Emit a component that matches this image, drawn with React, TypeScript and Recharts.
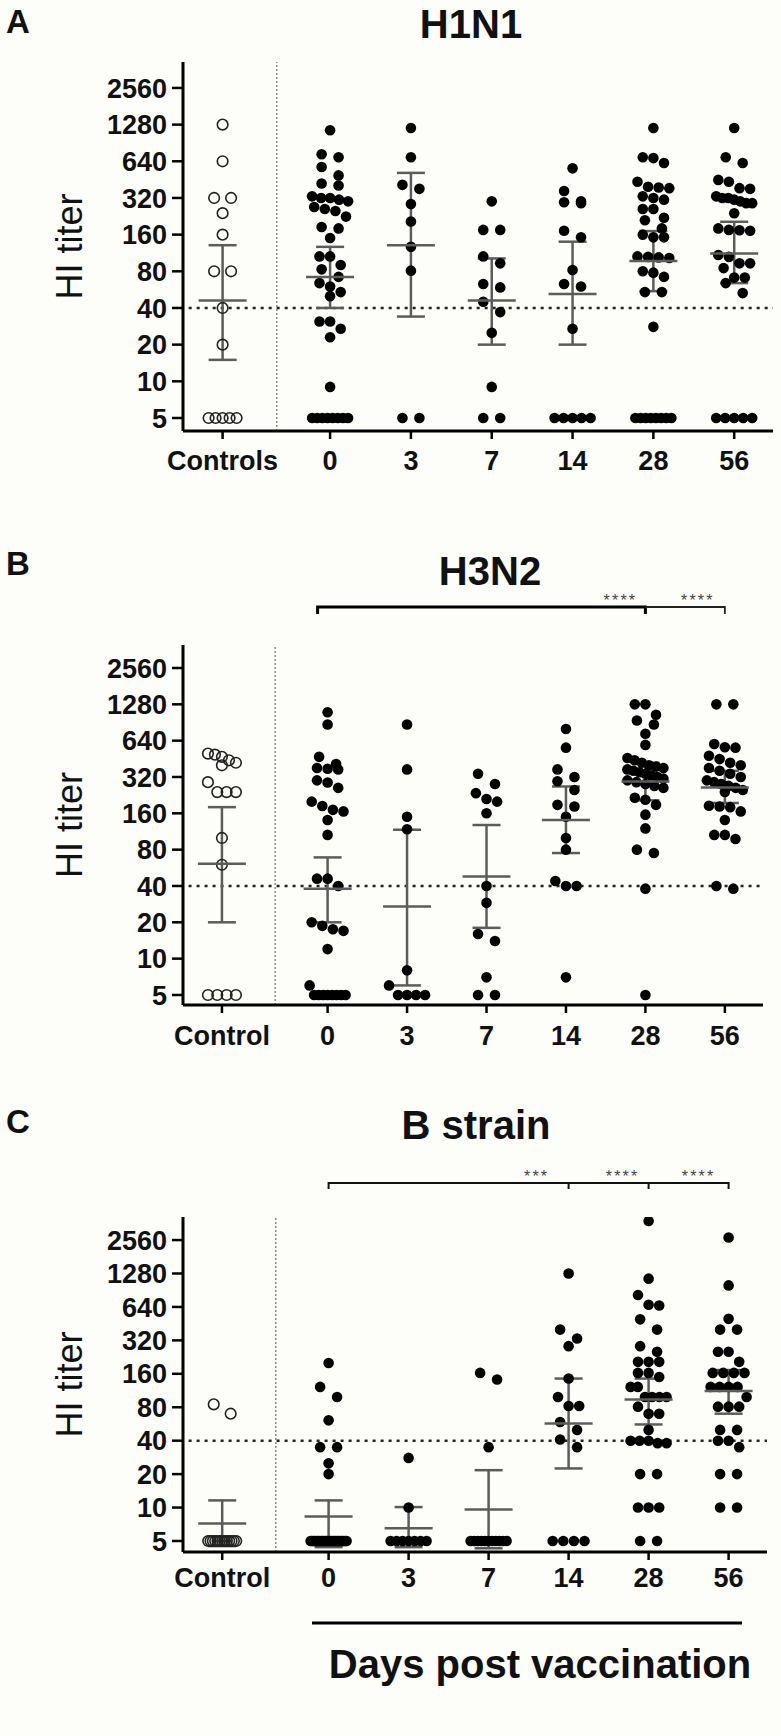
import React from 'react'
import { ScatterChart, Scatter, XAxis, YAxis, ReferenceLine, ErrorBar } from 'recharts'

const FONT = '"Liberation Sans", Arial, Helvetica, sans-serif'

// tick labels
const DAY_LABELS = ['0', '3', '7', '14', '28', '56']
const Y_TICKS = [5, 10, 20, 40, 80, 160, 320, 640, 1280, 2560]

// H1N1 titers per group (Controls, day 0 ... day 56)
const h1n1Control = [1280, 640, 320, 320, 240, 160, 80, 80, 40, 20, 5, 5, 5, 5, 5]
const h1n1Day0 = [1150, 730, 690, 575, 490, 420, 405, 330, 320, 320, 310, 300, 270, 260, 250, 225, 185, 180, 150, 106, 106, 90, 83, 72, 64, 60, 54, 50, 31, 31, 27, 23, 9, 5, 5, 5, 5, 5, 5, 5, 5]
const h1n1Day3 = [1200, 690, 410, 380, 285, 205, 127, 81, 5, 5]
const h1n1Day7 = [300, 175, 175, 106, 93, 63, 59, 45, 37, 25, 9, 5, 5]
const h1n1Day14 = [560, 365, 300, 295, 290, 172, 152, 82, 63, 60, 27, 5, 5, 5, 5, 5]
const h1n1Day28 = [1200, 690, 680, 620, 435, 395, 390, 385, 330, 320, 310, 260, 260, 220, 210, 180, 160, 152, 152, 106, 105, 104, 103, 80, 78, 72, 54, 54, 28, 5, 5, 5, 5, 5, 5, 5, 5]
const h1n1Day56 = [1200, 690, 620, 450, 435, 385, 380, 330, 320, 320, 310, 300, 290, 290, 240, 180, 175, 174, 172, 109, 105, 93, 93, 85, 71, 71, 64, 53, 5, 5, 5, 5, 5]
const h1n1Mean = [46, 72, 131, 46, 52, 97, 112]
const h1n1Lo = [15, 40, 34, 20, 20, 55, 64]
const h1n1Hi = [131, 127, 514, 102, 140, 171, 204]

// H3N2
const h3n2Control = [500, 470, 440, 420, 400, 490, 290, 240, 240, 240, 100, 60, 5, 5, 5, 5]
const h3n2Day0 = [1100, 870, 470, 410, 380, 375, 370, 300, 288, 260, 200, 184, 171, 166, 141, 106, 46, 46, 40, 20, 18.7, 17.5, 17, 12, 6, 5, 5, 5, 5, 5, 5, 5, 5]
const h3n2Day3 = [870, 370, 150, 118, 8, 6, 5, 5, 5, 5]
const h3n2Day7 = [340, 280, 235, 210, 200, 160, 40, 29, 16, 14, 7, 5, 5]
const h3n2Day14 = [800, 560, 370, 320, 295, 250, 188, 182, 150, 100, 80, 44, 40, 40, 7]
const h3n2Day28 = [1280, 1280, 1050, 940, 870, 730, 590, 460, 440, 420, 400, 390, 380, 370, 360, 350, 340, 330, 320, 310, 300, 290, 280, 270, 260, 215, 207, 188, 156, 120, 80, 75, 38, 5]
const h3n2Day56 = [1280, 1280, 600, 565, 560, 480, 450, 420, 400, 380, 360, 340, 320, 300, 290, 280, 270, 260, 250, 240, 185, 182, 180, 166, 141, 106, 106, 98, 40, 38]
const h3n2Mean = [61, 38, 27, 48, 141, 294, 262]
const h3n2Lo = [20, 20, 6, 18, 75, 205, 195]
const h3n2Hi = [180, 69, 117, 128, 267, 420, 360]

// B strain
const bControl = [85, 70, 5, 5, 5, 5, 5, 5, 5, 5, 5, 5, 5, 5, 5]
const bDay0 = [200, 122, 99, 61, 35, 35, 25, 20, 5, 5, 5, 5, 5, 5, 5, 5, 5, 5, 5, 5, 5, 5, 5, 5, 5, 5, 5, 5, 5, 5, 5, 5, 5, 5, 5, 5]
const bDay3 = [28, 10, 5, 5, 5, 5, 5, 5, 5]
const bDay7 = [163, 142, 35, 5, 5, 5, 5, 5, 5, 5, 5, 5, 5, 5]
const bDay14 = [1280, 400, 333, 284, 145, 99, 82, 82, 59, 50, 41, 35, 5, 5, 5, 5]
const bDay28 = [3800, 1150, 820, 670, 660, 495, 400, 284, 253, 205, 205, 205, 163, 163, 150, 122, 122, 99, 99, 99, 99, 81, 70, 70, 50, 40, 40, 40, 38, 38, 20, 20, 10, 10, 10, 5, 5]
const bDay56 = [2700, 1000, 500, 400, 400, 253, 253, 205, 163, 163, 163, 163, 122, 122, 122, 122, 99, 81, 81, 81, 50, 50, 40, 40, 35, 20, 20, 10, 10]
const bMean = [7.2, 8.3, 6.5, 9.6, 57, 94, 112]
const bLo = [4.5, 4.4, 4.4, 4.3, 22.5, 56, 70]
const bHi = [11.6, 11.6, 10.1, 21.7, 145, 145, 173]

// layout
const CAT_POS = [0.49, 1.82, 2.82, 3.82, 4.82, 5.82, 6.82]
const X_MAX = 7.3
const SEP_X = 1.16
const PLOT_LEFT = 183
const R = 5.3

// beeswarm-like spread: bin points into rows and centre each row
function swarm(vals: number[], pxPerUnit: number, maxHalf: number) {
  const diam = 2 * R
  const idx = vals.map((_, i) => i).sort((a, b) => vals[b] - vals[a])
  const dx = new Array(vals.length).fill(0)
  let i = 0
  while (i < idx.length) {
    const y0 = Math.log2(vals[idx[i]]) * pxPerUnit
    let j = i + 1
    while (j < idx.length && y0 - Math.log2(vals[idx[j]]) * pxPerUnit < diam) j++
    const n = j - i
    let step = 0
    if (n === 2) step = Math.min(1.6 * diam, 2 * maxHalf)
    else if (n > 2) step = Math.min(diam, (2 * maxHalf) / (n - 1))
    for (let k = 0; k < n; k++) dx[idx[i + k]] = (k - (n - 1) / 2) * step
    i = j
  }
  return dx
}

const filledDot = (p: any) => <circle cx={p.cx + p.payload.dx} cy={p.cy} r={R} fill="#000" />
const openDot = (p: any) => (
  <circle cx={p.cx + p.payload.dx} cy={p.cy} r={R} fill="none" stroke="#222" strokeWidth={1.6} />
)
const meanBar = (p: any) => (
  <line x1={p.cx - 24} x2={p.cx + 24} y1={p.cy} y2={p.cy} stroke="#5c5c5c" strokeWidth={2.5} />
)

const tickStyle = { fontSize: 27, fontWeight: 700, fill: '#111', fontFamily: FONT }

interface PanelProps {
  controlLabel: string
  columns: number[][]
  mean: number[]
  lo: number[]
  hi: number[]
  plotTop: number
  plotBottom: number
  plotRight: number
  yMin: number
  yMax: number
  xTickMargin: number
}

function Panel(p: PanelProps) {
  const chartTop = p.plotTop - 20
  const height = p.plotBottom - chartTop + 60
  const lmin = Math.log2(p.yMin)
  const lmax = Math.log2(p.yMax)
  const pxPerUnit = (p.plotBottom - p.plotTop) / (lmax - lmin)
  const labels = [p.controlLabel, ...DAY_LABELS]

  const summary = p.mean.map((m, c) => ({
    x: CAT_POS[c],
    y: Math.log2(m),
    err: [Math.log2(m) - Math.log2(p.lo[c]), Math.log2(p.hi[c]) - Math.log2(m)],
  }))

  return (
    <div style={{ position: 'absolute', top: chartTop, left: 0 }}>
      <ScatterChart
        width={781}
        height={height}
        margin={{ top: 20, right: 781 - p.plotRight, bottom: 10, left: PLOT_LEFT - 100 }}
      >
        <XAxis
          type="number"
          dataKey="x"
          domain={[0, X_MAX]}
          ticks={CAT_POS}
          interval={0}
          allowDataOverflow
          height={50}
          tickSize={8}
          tickMargin={p.xTickMargin}
          axisLine={{ stroke: '#000', strokeWidth: 3 }}
          tickLine={{ stroke: '#000', strokeWidth: 2.5 }}
          tick={tickStyle}
          tickFormatter={(v: number) => labels[CAT_POS.findIndex((c) => Math.abs(c - v) < 1e-6)] ?? ''}
        />
        <YAxis
          type="number"
          dataKey="y"
          domain={[lmin, lmax]}
          ticks={Y_TICKS.map((t) => Math.log2(t))}
          interval={0}
          allowDataOverflow
          width={100}
          tickSize={11}
          tickMargin={5}
          axisLine={{ stroke: '#000', strokeWidth: 3 }}
          tickLine={{ stroke: '#000', strokeWidth: 2.5 }}
          tick={tickStyle}
          tickFormatter={(v: number) => String(Math.round(2 ** v))}
        />
        <ReferenceLine x={SEP_X} stroke="#8a8a8a" strokeWidth={1.5} strokeDasharray="2 2" />
        <ReferenceLine
          segment={[
            { x: 0.07, y: Math.log2(40) },
            { x: X_MAX, y: Math.log2(40) },
          ]}
          stroke="#222"
          strokeWidth={2.5}
          strokeDasharray="3 5"
        />
        {p.columns.map((vals, c) => {
          const dx = swarm(vals, pxPerUnit, c === 0 ? 14 : 18)
          const data = vals.map((v, i) => ({ x: CAT_POS[c], y: Math.log2(v), dx: dx[i] }))
          return (
            <Scatter
              key={c}
              data={data}
              shape={c === 0 ? openDot : filledDot}
              isAnimationActive={false}
            />
          )
        })}
        <Scatter data={summary} shape={meanBar} isAnimationActive={false}>
          <ErrorBar
            dataKey="err"
            direction="y"
            width={14}
            stroke="#5c5c5c"
            strokeWidth={2.5}
            isAnimationActive={false}
          />
        </Scatter>
      </ScatterChart>
    </div>
  )
}

const PANELS = [
  {
    letter: 'A', letterY: 33, title: 'H1N1', titleX: 471, titleY: 38, controlLabel: 'Controls',
    columns: [h1n1Control, h1n1Day0, h1n1Day3, h1n1Day7, h1n1Day14, h1n1Day28, h1n1Day56],
    mean: h1n1Mean, lo: h1n1Lo, hi: h1n1Hi,
    plotTop: 62, plotBottom: 431, plotRight: 773, yMin: 3.91, yMax: 4180, xTickMargin: 12,
  },
  {
    letter: 'B', letterY: 575, title: 'H3N2', titleX: 490, titleY: 585, controlLabel: 'Control',
    columns: [h3n2Control, h3n2Day0, h3n2Day3, h3n2Day7, h3n2Day14, h3n2Day28, h3n2Day56],
    mean: h3n2Mean, lo: h3n2Lo, hi: h3n2Hi,
    plotTop: 645, plotBottom: 1005, plotRight: 763, yMin: 4.13, yMax: 3970, xTickMargin: 13,
  },
  {
    letter: 'C', letterY: 1133, title: 'B strain', titleX: 476, titleY: 1139, controlLabel: 'Control',
    columns: [bControl, bDay0, bDay3, bDay7, bDay14, bDay28, bDay56],
    mean: bMean, lo: bLo, hi: bHi,
    plotTop: 1217, plotBottom: 1552, plotRight: 767, yMin: 3.98, yMax: 4130, xTickMargin: 8,
  },
]

function catX(panel: number, c: number) {
  const unit = (PANELS[panel].plotRight - PLOT_LEFT) / X_MAX
  return PLOT_LEFT + CAT_POS[c] * unit
}

function Stars({ x, y, text }: { x: number; y: number; text: string }) {
  return (
    <text x={x} y={y} textAnchor="middle" fontSize={16} fill="#444" letterSpacing={2.2} fontFamily={FONT}>
      {text}
    </text>
  )
}

export default function App() {
  const bY = 607
  const cY = 1183
  return (
    <div style={{ position: 'absolute', top: 0, left: 0, width: 781, height: 1736, background: '#fdfdf9' }}>
      {PANELS.map((p) => (
        <Panel key={p.letter} {...p} />
      ))}
      <svg
        width={781}
        height={1736}
        style={{ position: 'absolute', top: 0, left: 0, pointerEvents: 'none' }}
        fontFamily={FONT}
      >
        {PANELS.map((p) => (
          <g key={p.letter}>
            <text x={6} y={p.letterY} fontSize={33} fontWeight={700} fill="#111">
              {p.letter}
            </text>
            <text x={p.titleX} y={p.titleY} fontSize={40} fontWeight={700} fill="#111" textAnchor="middle">
              {p.title}
            </text>
            <text
              transform={`translate(69 ${(p.plotTop + p.plotBottom) / 2}) rotate(-90)`}
              textAnchor="middle"
              dominantBaseline="central"
              fontSize={36}
              fill="#111"
            >
              HI titer
            </text>
          </g>
        ))}

        {/* H3N2 comparisons */}
        <path
          d={`M${catX(1, 1) - 10},${bY + 7} V${bY} H${catX(1, 5)} V${bY + 7}`}
          fill="none"
          stroke="#000"
          strokeWidth={3}
        />
        <path d={`M${catX(1, 5)},${bY} H${catX(1, 6)} V${bY + 7}`} fill="none" stroke="#222" strokeWidth={1.8} />
        <Stars x={catX(1, 5) - 25} y={bY - 1} text="****" />
        <Stars x={catX(1, 6) - 27} y={bY - 1} text="****" />

        {/* B strain comparisons */}
        <path
          d={`M${catX(2, 1)},${cY + 6} V${cY} H${catX(2, 6)} V${cY + 6} M${catX(2, 4)},${cY} V${cY + 6} M${catX(2, 5)},${cY} V${cY + 6}`}
          fill="none"
          stroke="#111"
          strokeWidth={2}
        />
        <Stars x={catX(2, 4) - 32} y={cY - 1} text="***" />
        <Stars x={catX(2, 5) - 26} y={cY - 1} text="****" />
        <Stars x={catX(2, 6) - 30} y={cY - 1} text="****" />

        <line x1={312} x2={742} y1={1623} y2={1623} stroke="#000" strokeWidth={3} />
        <text x={540} y={1678} textAnchor="middle" fontSize={40} fontWeight={700} fill="#111">
          Days post vaccination
        </text>
      </svg>
    </div>
  )
}
